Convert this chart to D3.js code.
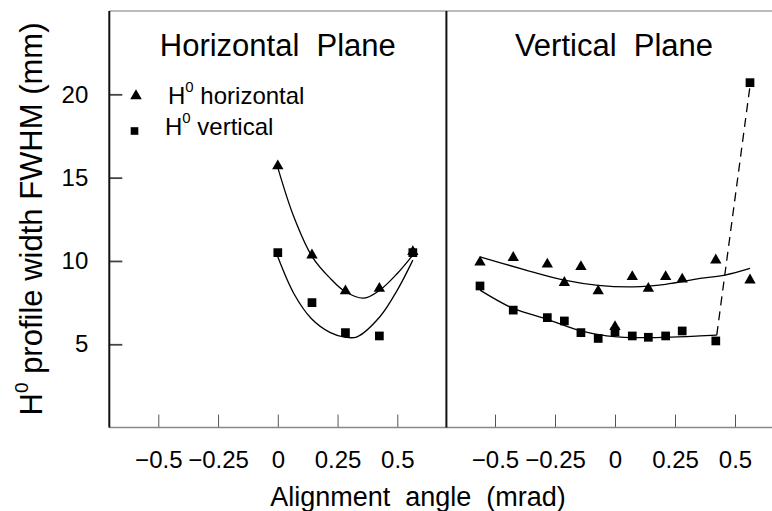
<!DOCTYPE html>
<html>
<meta charset="utf-8">
<script src="https://cdn.jsdelivr.net/npm/d3@7/dist/d3.min.js" charset="utf-8"></script>
<title>H0 profile width vs alignment angle</title>
<style>
  body { margin: 0; background: #fff; }
  text { font-family: "Liberation Sans", Arial, sans-serif; fill: #000; }
</style>
<body>
<script type="text/javascript">

// ---- data ----
// horizontal plane scan
var hAngles   = [0, 0.143, 0.283, 0.425, 0.565];
var hTriangle = [15.7, 10.35, 8.2, 8.35, 10.55];   // H0 horizontal
var hSquare   = [10.5, 7.5, 5.7, 5.5, 10.5];       // H0 vertical
var hFitTriX  = [0, 0.067, 0.144, 0.22, 0.283, 0.36, 0.427, 0.5, 0.565];
var hFitTriY  = [15.6, 12.65, 10.25, 8.95, 8.15, 7.77, 8.25, 9.25, 10.35];
var hFitSqX   = [0, 0.067, 0.14, 0.22, 0.283, 0.332, 0.427, 0.5, 0.565];
var hFitSqY   = [10.25, 8.05, 6.55, 5.7, 5.42, 5.45, 6.65, 8.25, 10.05];

// vertical plane scan
var vAngles   = [-0.5625, -0.424, -0.282, -0.211, -0.142, -0.07, 0, 0.072, 0.139, 0.211, 0.28, 0.42, 0.5625];
var vTriangle = [9.92, 10.2, 9.8, 8.7, 9.65, 8.2, 6.05, 9.05, 8.35, 9.05, 8.9, 10.05, 8.85];
var vSquare   = [8.5, 7.05, 6.6, 6.4, 5.7, 5.35, 5.75, 5.5, 5.42, 5.5, 5.8, 5.2, 20.7];
var vFitTriX  = [-0.5625, -0.382, -0.211, -0.07, 0.076, 0.211, 0.354, 0.458, 0.5625];
var vFitTriY  = [10.25, 9.5, 8.85, 8.54, 8.45, 8.6, 8.95, 9.15, 9.55];
var vFitSqX   = [-0.5625, -0.424, -0.282, -0.142, -0.035, 0.07, 0.211, 0.354, 0.424];
var vFitSqY   = [8.25, 7.15, 6.5, 5.8, 5.5, 5.4, 5.42, 5.5, 5.55];
var vJumpX    = [0.424, 0.5625];
var vJumpY    = [5.55, 20.5];

var xTickValues = [-0.5, -0.25, 0, 0.25, 0.5];
var xTickLabels = ["\u22120.5", "\u22120.25", "0", "0.25", "0.5"];
var yTickValues = [5, 10, 15, 20];
var yTickLabels = ["5", "10", "15", "20"];

var panelTitles = ["Horizontal  Plane", "Vertical  Plane"];
var legendNames = ["horizontal", "vertical"];

// ---- layout ----
var size = { width: 772, height: 511 };

var yScale = d3.scaleLinear().domain([0, 25]).range([427.6, 11]);
var xLeft  = d3.scaleLinear().domain([-0.5, 0.5]).range([158.3, 397.3]);
var xRight = d3.scaleLinear().domain([-0.5, 0.5]).range([495, 735]);

var frameLeft = 109.3, frameMid = 446.4, frameRight = xRight(0.7);

var svg = d3.select("body")
    .append("svg")
    .attr("width", size.width)
    .attr("height", size.height);

function zip(xs, ys) {
    return xs.map(function(x, i) { return { x: x, y: ys[i] }; });
}

// frame
svg.append("line")
    .attr("x1", frameLeft).attr("x2", frameRight)
    .attr("y1", yScale(25)).attr("y2", yScale(25))
    .style("stroke", "#777").style("stroke-width", 1);

// x axes, ticks pointing up into the plot
[xLeft, xRight].forEach(function(sc) {
    var g = svg.append("g")
        .attr("transform", "translate(0," + yScale(0) + ")")
        .call(d3.axisBottom(sc)
            .tickValues(xTickValues)
            .tickSize(-13)
            .tickFormat(function(d, i) { return xTickLabels[i]; }));
    g.select(".domain").remove();
    g.selectAll(".tick line").style("stroke", "#555").style("stroke-width", 1);
    g.selectAll(".tick text")
        .attr("y", 40.5).attr("dy", null)
        .style("font-size", "24px")
        .style("fill", "#000")
        .style("font-family", "'Liberation Sans', Arial, sans-serif");
});

svg.append("line")
    .attr("x1", frameLeft).attr("x2", frameRight)
    .attr("y1", yScale(0)).attr("y2", yScale(0))
    .style("stroke", "#888").style("stroke-width", 1.5);

// y axis
var yAxis = svg.append("g")
    .attr("transform", "translate(" + frameLeft + ",0)")
    .call(d3.axisLeft(yScale)
        .tickValues(yTickValues)
        .tickSize(-13)
        .tickPadding(21)
        .tickFormat(function(d, i) { return yTickLabels[i]; }));
yAxis.select(".domain").remove();
yAxis.selectAll(".tick line").style("stroke", "#444").style("stroke-width", 1.8);
yAxis.selectAll(".tick text")
    .style("font-size", "24px")
    .style("fill", "#000")
    .style("font-family", "'Liberation Sans', Arial, sans-serif");

[frameLeft, frameMid].forEach(function(x) {
    svg.append("line")
        .attr("x1", x).attr("x2", x)
        .attr("y1", yScale(25)).attr("y2", yScale(0))
        .style("stroke", "#111").style("stroke-width", 2);
});

// panel titles
[xLeft, xRight].forEach(function(sc, i) {
    svg.append("text")
        .attr("x", (Math.max(frameLeft, sc(-0.7)) + sc(0.7)) / 2 - (i ? 1 : 0))
        .attr("y", 56)
        .attr("text-anchor", "middle")
        .style("white-space", "pre")
        .style("font-size", "31px")
        .text(panelTitles[i]);
});

// fitted curves
var curve = d3.line()
    .curve(d3.curveCatmullRom.alpha(0.5));

function drawCurve(sc, xs, ys, dash) {
    curve.x(function(d) { return sc(d.x); })
         .y(function(d) { return yScale(d.y); });
    svg.append("path")
        .datum(zip(xs, ys))
        .attr("d", curve)
        .style("fill", "none")
        .style("stroke", "#000")
        .style("stroke-width", 1.3)
        .style("stroke-dasharray", dash || null);
}

drawCurve(xLeft, hFitTriX, hFitTriY);
drawCurve(xLeft, hFitSqX, hFitSqY);
drawCurve(xRight, vFitTriX, vFitTriY);
drawCurve(xRight, vFitSqX, vFitSqY);
drawCurve(xRight, vJumpX, vJumpY, "9,6");

// markers
var tri = d3.symbol().type(d3.symbolTriangle).size(56);
var sq  = d3.symbol().type(d3.symbolSquare).size(76);

function drawMarks(sc, xs, ys, sym) {
    svg.append("g")
        .selectAll("path")
        .data(zip(xs, ys))
        .enter()
        .append("path")
        .attr("transform", function(d) {
            return "translate(" + sc(d.x) + "," + yScale(d.y) + ")";
        })
        .attr("d", sym)
        .style("fill", "#000");
}

drawMarks(xLeft, hAngles, hSquare, sq);
drawMarks(xLeft, hAngles, hTriangle, tri);
drawMarks(xRight, vAngles, vSquare, sq);
drawMarks(xRight, vAngles, vTriangle, tri);

// legend
var legend = [
    { sym: d3.symbol().type(d3.symbolTriangle).size(58), mx: 136, my: 96, tx: 168, ty: 104 },
    { sym: d3.symbol().type(d3.symbolSquare).size(58), mx: 134.5, my: 131, tx: 165, ty: 135 }
];
legend.forEach(function(l, i) {
    svg.append("path")
        .attr("transform", "translate(" + l.mx + "," + l.my + ")")
        .attr("d", l.sym)
        .style("fill", "#000");
    var t = svg.append("text")
        .attr("x", l.tx).attr("y", l.ty)
        .style("font-size", "24px")
        .style("white-space", "pre");
    t.append("tspan").text("H");
    t.append("tspan").attr("dy", -12).style("font-size", "15px").text("0");
    t.append("tspan").attr("dy", 12).text(" " + legendNames[i]);
});

// axis titles
var yTitle = svg.append("text")
    .attr("transform", "translate(42,219) rotate(-90)")
    .attr("text-anchor", "middle")
    .style("font-size", "31px");
yTitle.append("tspan").text("H");
yTitle.append("tspan").attr("dy", -14).style("font-size", "19px").text("0");
yTitle.append("tspan").attr("dy", 14).text(" profile width FWHM (mm)");

svg.append("text")
    .attr("x", 418)
    .attr("y", 506)
    .attr("text-anchor", "middle")
    .style("white-space", "pre")
    .style("font-size", "27px")
    .text("Alignment  angle  (mrad)");

</script>
</body>
</html>
